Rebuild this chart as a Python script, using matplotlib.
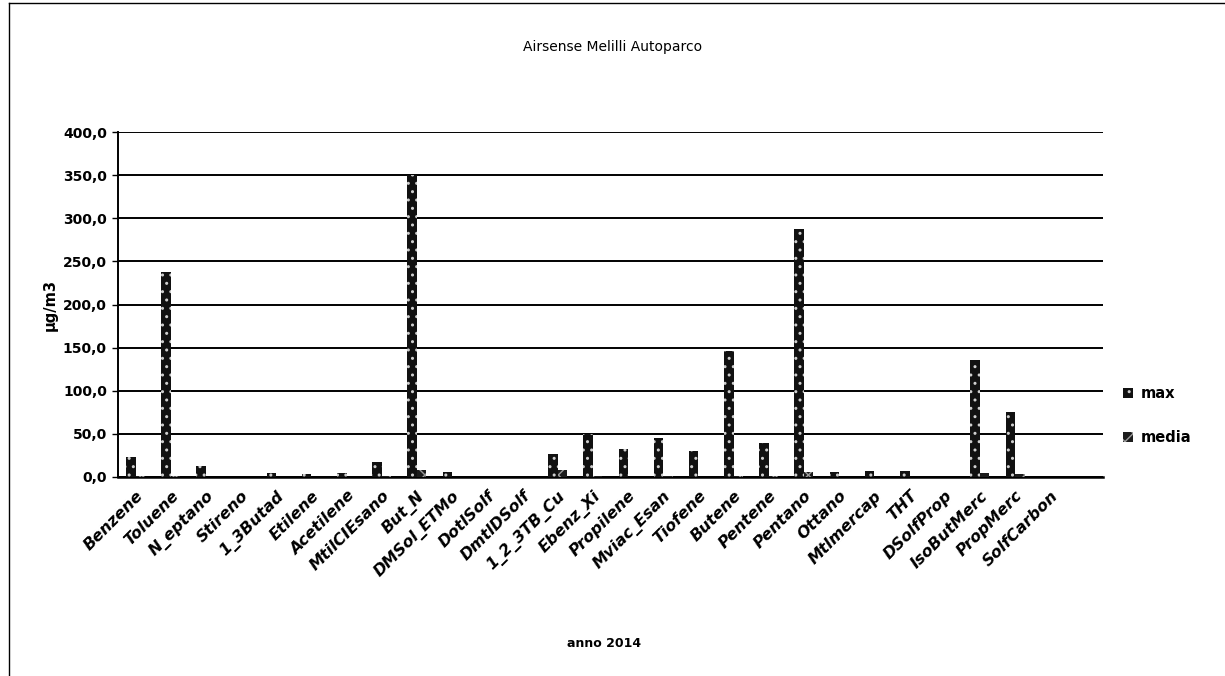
import numpy as np
import matplotlib
matplotlib.use("Agg")
import matplotlib.pyplot as plt
from matplotlib.lines import Line2D

# categories on the x axis (last slot is empty in the original chart)
categories = ["Benzene", "Toluene", "N_eptano", "Stireno", "1_3Butad", "Etilene",
              "Acetilene", "MtilCIEsano", "But_N", "DMSol_ETMo", "DotlSolf",
              "DmtlDSolf", "1_2_3TB_Cu", "Ebenz_Xi", "Propilene", "Mviac_Esan",
              "Tiofene", "Butene", "Pentene", "Pentano", "Ottano", "Mtlmercap",
              "THT", "DSolfProp", "IsoButMerc", "PropMerc", "SolfCarbon", ""]

# ug/m3
max_vals = [23.0, 238.0, 13.0, 0.0, 4.7, 3.0, 4.5, 17.0, 350.0, 5.5, 0.0, 0.0,
            26.5, 50.0, 33.0, 45.5, 30.0, 146.0, 39.0, 287.5, 5.5, 6.5, 6.5, 0.0,
            136.0, 75.0, 0.0, 0.0]
media_vals = [0.6, 0.8, 0.4, 0.0, 0.3, 0.2, 0.3, 0.6, 8.0, 0.5, 0.0, 0.0,
              8.5, 0.8, 0.5, 0.6, 0.4, 0.6, 0.6, 5.5, 0.3, 0.3, 0.3, 0.0,
              5.0, 3.0, 0.2, 0.0]

yticks = [0, 50, 100, 150, 200, 250, 300, 350, 400]


def main():
    fig = plt.figure(figsize=(12.25, 6.76), dpi=100)
    ax = fig.add_axes([0.0963, 0.2944, 0.8041, 0.5103])

    x = np.arange(len(categories))
    w = 0.27
    ax.bar(x - w / 2, max_vals, w, color="#111111", edgecolor="#cfcfcf",
           hatch="..", linewidth=0, label="max", zorder=3)
    ax.bar(x + w / 2, media_vals, w, color="#1c1c1c", edgecolor="#9a9a9a",
           hatch="xx", linewidth=0, label="media", zorder=3)

    ax.set_xlim(-0.5, len(categories) - 0.5)
    ax.set_ylim(0, 400)
    ax.set_yticks(yticks)
    ax.set_yticklabels([("%.1f" % v).replace(".", ",") for v in yticks],
                       fontsize=10, fontweight="bold")
    ax.yaxis.grid(True, color="black", linewidth=1.4, zorder=0)
    ax.set_axisbelow(True)
    ax.tick_params(axis="y", length=4, width=1, direction="out", pad=4)

    ax.set_xticks(x)
    ax.set_xticklabels(categories, rotation=45, ha="right", va="top",
                       rotation_mode="anchor", fontsize=11.5, fontweight="bold",
                       fontstyle="italic")
    ax.tick_params(axis="x", length=0, pad=8)

    for s in ["top", "right"]:
        ax.spines[s].set_visible(False)
    ax.spines["left"].set_linewidth(1.4)
    ax.spines["bottom"].set_linewidth(1.8)

    ax.set_ylabel("\u03bcg/m3", fontsize=10.5, fontweight="bold", labelpad=4)
    fig.text(0.4935, 0.048, "anno 2014", fontsize=9, fontweight="bold",
             ha="center", va="center")
    fig.text(0.5, 0.93, "Airsense Melilli Autoparco", fontsize=10,
             ha="center", va="center")

    fig.legend(loc="center left", bbox_to_anchor=(0.906, 0.385), frameon=False,
               prop={"weight": "bold", "size": 10.5},
               handlelength=0.7, handleheight=0.7, handletextpad=0.5,
               labelspacing=2.0)

    # chart border (left and top edges only)
    fig.add_artist(Line2D([0.0075, 0.0075], [0.0, 0.996], transform=fig.transFigure,
                          color="black", linewidth=1.0))
    fig.add_artist(Line2D([0.0075, 1.0], [0.996, 0.996], transform=fig.transFigure,
                          color="black", linewidth=1.0))

    fig.savefig("out.png", dpi=100)


if __name__ == "__main__":
    main()
